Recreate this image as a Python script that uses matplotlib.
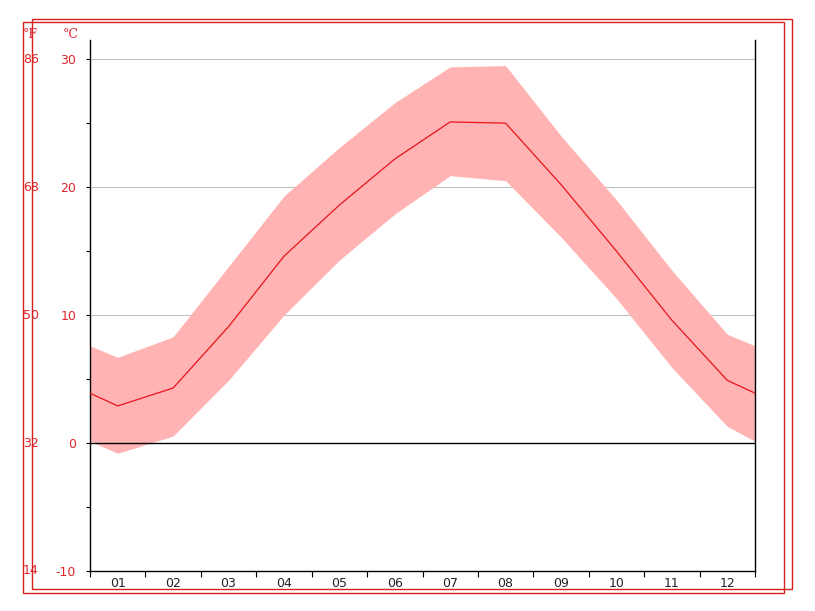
import numpy as np
import matplotlib
matplotlib.use("Agg")
import matplotlib.pyplot as plt
from matplotlib.patches import Rectangle
import matplotlib.transforms as mtransforms

months = ["01", "02", "03", "04", "05", "06", "07", "08", "09", "10", "11", "12"]
mean_temp = [2.9, 4.3, 9.1, 14.6, 18.6, 22.2, 25.1, 25.0, 20.2, 15.0, 9.6, 4.9]
max_temp = [6.7, 8.3, 13.8, 19.3, 23.1, 26.6, 29.4, 29.5, 24.0, 19.0, 13.5, 8.5]
min_temp = [-0.8, 0.55, 4.9, 10.0, 14.3, 17.9, 20.9, 20.5, 16.1, 11.3, 5.9, 1.3]
edge_mean = 3.9
edge_max = 7.6
edge_min = 0.15
c_ticks = [-10, 0, 10, 20, 30]
f_labels = ["14", "32", "50", "68", "86"]

W, H = 815, 611
fig = plt.figure(figsize=(W / 100, H / 100), dpi=100)
ax = fig.add_axes([90 / W, (H - 571) / H, (755 - 90) / W, (571 - 40) / H])

n = len(months)
centers = np.arange(n) + 0.5
xs = np.concatenate([[0], centers, [n]])
ym = np.concatenate([[edge_mean], mean_temp, [edge_mean]])
yu = np.concatenate([[edge_max], max_temp, [edge_max]])
yl = np.concatenate([[edge_min], min_temp, [edge_min]])

red = "#e0242a"
ax.fill_between(xs, yl, yu, color="#ffb3b3", linewidth=0, zorder=2)
ax.plot(xs, ym, color="#e8141c", linewidth=0.9, zorder=3)

ax.set_xlim(0, n)
ax.set_ylim(-10, 31.5)

for v in [10, 20, 30]:
    ax.axhline(v, color="#c0c0c0", linewidth=0.8, zorder=1)
ax.axhline(0, color="black", linewidth=1.0, zorder=4)

ax.spines["top"].set_visible(False)
for s in ["left", "right", "bottom"]:
    ax.spines[s].set_color("black")
    ax.spines[s].set_linewidth(1.0)

ax.set_yticks(c_ticks)
ax.set_yticks([-5, 5, 15, 25], minor=True)
ax.set_yticklabels([str(v) for v in c_ticks], color=red, fontsize=9)
ax.tick_params(axis="y", which="both", direction="out", length=3, width=0.8,
               color="black", pad=7)

ax.set_xticks(np.arange(0, n + 1))
ax.set_xticklabels([])
ax.tick_params(axis="x", which="major", direction="out", length=4, width=0.8, color="black")
ax.set_xticks(centers, minor=True)
ax.set_xticklabels(months, minor=True, fontsize=9, color="#222222")
ax.tick_params(axis="x", which="minor", length=0, pad=4)

trans = mtransforms.blended_transform_factory(fig.transFigure, ax.transData)
for v, lab in zip(c_ticks, f_labels):
    ax.text(23 / W, v, lab, transform=trans, color=red, fontsize=9,
            ha="left", va="center", clip_on=False)

fig.text(23 / W, (H - 35) / H, "°F", color=red, fontsize=9, ha="left", va="center",
         family="DejaVu Serif")
fig.text(63 / W, (H - 35) / H, "°C", color=red, fontsize=9, ha="left", va="center",
         family="DejaVu Serif")

rc = "#d42020"
fig.patches.append(Rectangle((23 / W, (H - 593) / H), (784 - 23) / W, (593 - 22) / H,
                             transform=fig.transFigure, fill=False, edgecolor=rc,
                             linewidth=1.0))
fig.patches.append(Rectangle((32 / W, (H - 589) / H), (792 - 32) / W, (589 - 19) / H,
                             transform=fig.transFigure, fill=False, edgecolor=rc,
                             linewidth=1.0))

fig.savefig("out.png", dpi=100)
